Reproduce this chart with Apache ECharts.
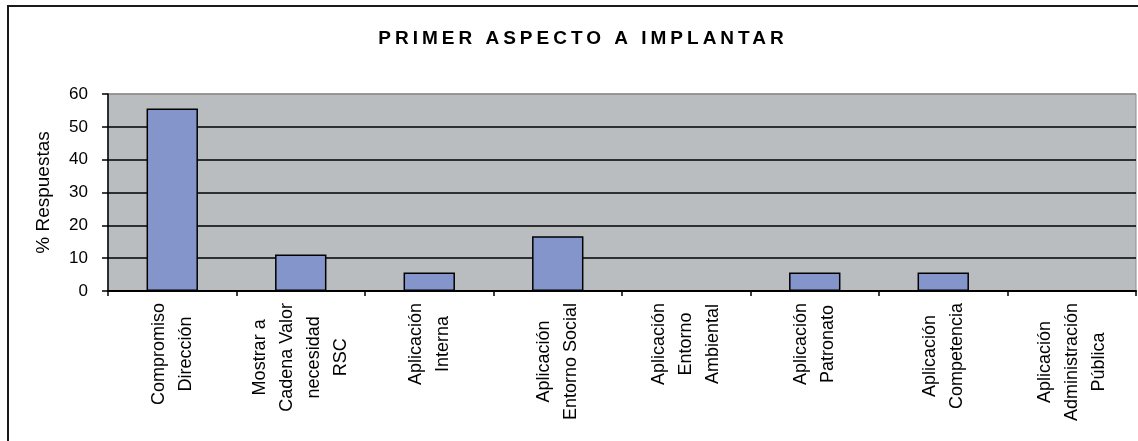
<!DOCTYPE html>
<html>
<head>
<meta charset="utf-8">
<script src="https://cdn.jsdelivr.net/npm/echarts@6/dist/echarts.min.js"></script>
<style>
html,body{margin:0;padding:0;background:#fff;}
#chart{width:1138px;height:441px;}
</style>
</head>
<body>
<div id="chart"></div>
<script>
const title = 'PRIMER ASPECTO A IMPLANTAR';
const yAxisName = '% Respuestas';
const categories = [
  'Compromiso\nDirección',
  'Mostrar a\nCadena Valor\nnecesidad\nRSC',
  'Aplicación\nInterna',
  'Aplicación\nEntorno Social',
  'Aplicación\nEntorno\nAmbiental',
  'Aplicación\nPatronato',
  'Aplicación\nCompetencia',
  'Aplicación\nAdministración\nPública'
];
const values = [55.6, 11.1, 5.6, 16.7, 0, 5.6, 5.6, 0];
const yTicks = [0, 10, 20, 30, 40, 50, 60];

// Spaced-out title lettering like the original
const _fill = CanvasRenderingContext2D.prototype.fillText;
CanvasRenderingContext2D.prototype.fillText = function (t) {
  if (t === title && 'letterSpacing' in this) {
    const prev = this.letterSpacing;
    this.letterSpacing = '4px';
    const r = _fill.apply(this, arguments);
    this.letterSpacing = prev;
    return r;
  }
  return _fill.apply(this, arguments);
};

const FONT = '"Liberation Sans", Arial, sans-serif';
const chart = echarts.init(document.getElementById('chart'), null, {renderer: 'canvas'});
const splitColors = yTicks.map((v, i) => i === yTicks.length - 1 ? '#8c8c8c' : '#000');

chart.setOption({
  animation: false,
  backgroundColor: '#fff',
  title: {
    text: title,
    left: 578,
    top: 24,
    textAlign: 'center',
    textStyle: {fontFamily: FONT, fontSize: 19, fontWeight: 'bold', color: '#000'}
  },
  graphic: [{
    type: 'rect',
    silent: true,
    shape: {x: 8, y: 6, width: 1300, height: 600},
    style: {fill: 'none', stroke: '#1a1a1a', lineWidth: 2}
  }],
  grid: {
    left: 108, top: 94, right: 2, bottom: 150,
    show: true,
    backgroundColor: '#b9bdbf',
    borderColor: '#8c8c8c',
    borderWidth: 1
  },
  xAxis: {
    type: 'category',
    data: categories,
    boundaryGap: true,
    axisLine: {show: true, lineStyle: {color: '#000', width: 2}},
    axisTick: {show: true, length: 5, inside: false, lineStyle: {color: '#000', width: 1.5}},
    axisLabel: {
      interval: 0,
      rotate: 90,
      margin: 12,
      formatter: v => v.split('\n').map(l => '{c|' + l + '}').join('\n'),
      rich: {
        c: {align: 'center', fontFamily: FONT, fontSize: 18, lineHeight: 27, color: '#000'}
      }
    }
  },
  yAxis: {
    type: 'value',
    min: yTicks[0],
    max: yTicks[yTicks.length - 1],
    interval: 10,
    name: yAxisName,
    nameLocation: 'middle',
    nameGap: 55,
    nameTextStyle: {fontFamily: FONT, fontSize: 19, color: '#000'},
    axisLine: {show: true, lineStyle: {color: '#000', width: 1.5}},
    axisTick: {show: true, length: 6, inside: false, lineStyle: {color: '#000', width: 1.5}},
    axisLabel: {margin: 20, fontFamily: FONT, fontSize: 17, color: '#000'},
    splitLine: {show: true, lineStyle: {color: splitColors, width: 1.5}}
  },
  series: [{
    type: 'bar',
    data: values,
    barWidth: '40%',
    itemStyle: {color: '#8495cb', borderColor: '#000', borderWidth: 1.5}
  }]
});
</script>
</body>
</html>
